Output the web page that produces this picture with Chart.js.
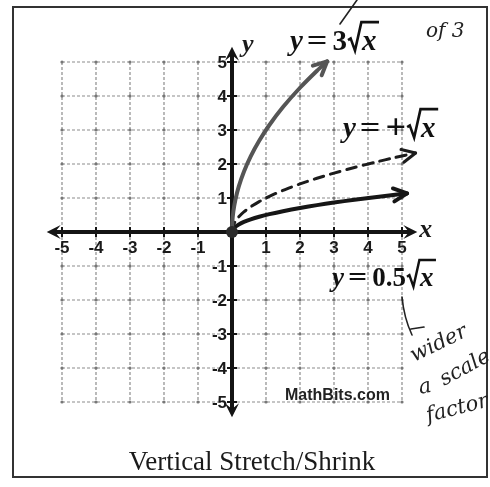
<!DOCTYPE html>
<html>
<head>
<meta charset="utf-8">
<title>Vertical Stretch/Shrink</title>
<script src="https://cdn.jsdelivr.net/npm/chart.js@4.4.1/dist/chart.umd.min.js"></script>
<style>
  html, body { margin: 0; padding: 0; background: #fff; }
  canvas { display: block; }
</style>
</head>
<body>
<canvas id="stretch-chart" width="490" height="487"></canvas>
<script>
// axis ticks and grid
const xTicks = [-5, -4, -3, -2, -1, 1, 2, 3, 4, 5]
const yTicks = [-5, -4, -3, -2, -1, 1, 2, 3, 4, 5]
const gridValues = [-5, -4, -3, -2, -1, 0, 1, 2, 3, 4, 5]

// y = k * sqrt(x) for each curve, k as printed in its label
const coefText = ['3', '+', '0.5']
const scaleFactors = [3, 1, 0.5]
const curveEndX = [2.8, 5.4, 5.15]
const sampleX = [0, 0.01, 0.04, 0.1, 0.2, 0.35, 0.55, 0.8, 1.1, 1.5, 2, 2.5, 3, 3.6, 4.2, 4.8]
const labelPos = [[290, 50], [343, 137], [332, 286]]
const labelSize = [29, 29, 27]

const curveColors = ['#555', '#1c1c1c', '#161616']
const curveWidths = [4, 3, 4]
const curveDash = [[], [10, 7], []]

const datasets = scaleFactors.map((k, i) => {
      const xs = sampleX.filter(x => x < curveEndX[i]).concat([curveEndX[i]])
      return {
            data: xs.map(x => ({ x: x, y: k * Math.sqrt(x) })),
            borderColor: curveColors[i],
            borderWidth: curveWidths[i],
            borderDash: curveDash[i],
            borderCapStyle: 'round',
            pointRadius: 0,
            tension: 0.2,
            fill: false
      }
})

function chevron(ctx, tx, ty, ang, len, spread, width, color) {
      ctx.save()
      ctx.strokeStyle = color
      ctx.lineWidth = width
      ctx.lineCap = 'round'
      ctx.lineJoin = 'round'
      ctx.beginPath()
      ctx.moveTo(tx - len * Math.cos(ang - spread), ty - len * Math.sin(ang - spread))
      ctx.lineTo(tx, ty)
      ctx.lineTo(tx - len * Math.cos(ang + spread), ty - len * Math.sin(ang + spread))
      ctx.stroke()
      ctx.restore()
}

function solidHead(ctx, tx, ty, ang, len, half) {
      ctx.beginPath()
      ctx.moveTo(tx, ty)
      ctx.lineTo(tx - len * Math.cos(ang) + half * Math.sin(ang), ty - len * Math.sin(ang) - half * Math.cos(ang))
      ctx.lineTo(tx - len * 0.6 * Math.cos(ang), ty - len * 0.6 * Math.sin(ang))
      ctx.lineTo(tx - len * Math.cos(ang) - half * Math.sin(ang), ty - len * Math.sin(ang) + half * Math.cos(ang))
      ctx.closePath()
      ctx.fill()
}

// y = k√x written out with a hand built radical sign
function drawEquation(ctx, x, base, coef, size) {
      ctx.save()
      ctx.fillStyle = '#111'
      ctx.strokeStyle = '#111'
      ctx.textBaseline = 'alphabetic'
      ctx.textAlign = 'left'
      ctx.font = 'bold italic ' + size + 'px "Liberation Serif"'
      ctx.fillText('y', x, base)
      let cx = x + ctx.measureText('y').width + 4
      ctx.font = 'bold ' + size + 'px "Liberation Serif"'
      ctx.save()
      ctx.translate(cx, base)
      ctx.scale(1.25, 1)
      ctx.fillText('=', 0, 0)
      ctx.restore()
      cx += ctx.measureText('=').width * 1.25 + 5
      if (coef === '+') {
            // the plus is printed a little larger than the digits
            ctx.save()
            ctx.translate(cx, base + 2)
            ctx.scale(1.25, 1.2)
            ctx.fillText(coef, 0, 0)
            ctx.restore()
            cx += ctx.measureText(coef).width * 1.25 + 1
      } else {
            ctx.fillText(coef, cx, base)
            cx += ctx.measureText(coef).width + 1
      }
      ctx.font = 'bold italic ' + size + 'px "Liberation Serif"'
      const xw = ctx.measureText('x').width
      ctx.lineWidth = size * 0.09
      ctx.lineJoin = 'miter'
      ctx.beginPath()
      ctx.moveTo(cx, base - 0.34 * size)
      ctx.lineTo(cx + 0.09 * size, base - 0.40 * size)
      ctx.lineTo(cx + 0.24 * size, base + 0.02 * size)
      ctx.lineTo(cx + 0.46 * size, base - 0.96 * size)
      ctx.lineTo(cx + 0.50 * size + xw + 2, base - 0.96 * size)
      ctx.stroke()
      ctx.fillText('x', cx + 0.48 * size, base)
      ctx.restore()
}

const gridPlugin = {
      id: 'gridAndAxes',
      beforeDatasetsDraw(chart) {
            const ctx = chart.ctx
            const xs = chart.scales.x
            const ys = chart.scales.y
            const x0 = xs.getPixelForValue(0)
            const y0 = ys.getPixelForValue(0)
            const left = xs.getPixelForValue(-5), right = xs.getPixelForValue(5)
            const top = ys.getPixelForValue(5), bottom = ys.getPixelForValue(-5)

            ctx.save()
            ctx.strokeStyle = '#8c8c8c'
            ctx.lineWidth = 1.2
            ctx.setLineDash([3, 2])
            gridValues.forEach(v => {
                  const px = xs.getPixelForValue(v)
                  ctx.beginPath(); ctx.moveTo(px, top); ctx.lineTo(px, bottom); ctx.stroke()
                  const py = ys.getPixelForValue(v)
                  ctx.beginPath(); ctx.moveTo(left, py); ctx.lineTo(right, py); ctx.stroke()
            })
            ctx.setLineDash([])
            ctx.fillStyle = '#777'
            gridValues.forEach(a => {
                  gridValues.forEach(b => {
                        ctx.beginPath()
                        ctx.arc(xs.getPixelForValue(a), ys.getPixelForValue(b), 1.6, 0, Math.PI * 2)
                        ctx.fill()
                  })
            })

            // main axes with arrows
            ctx.strokeStyle = '#141414'
            ctx.fillStyle = '#141414'
            ctx.lineWidth = 4
            const xl = xs.getPixelForValue(-5.45), xr = xs.getPixelForValue(5.45)
            const yt = ys.getPixelForValue(5.45), yb = ys.getPixelForValue(-5.45)
            ctx.beginPath(); ctx.moveTo(xl + 6, y0); ctx.lineTo(xr - 6, y0); ctx.stroke()
            ctx.beginPath(); ctx.moveTo(x0, yt + 6); ctx.lineTo(x0, yb - 6); ctx.stroke()
            solidHead(ctx, xl, y0, Math.PI, 14, 7)
            solidHead(ctx, xr, y0, 0, 14, 7)
            solidHead(ctx, x0, yt, -Math.PI / 2, 14, 7)
            solidHead(ctx, x0, yb, Math.PI / 2, 14, 7)

            ctx.lineWidth = 2
            xTicks.forEach(t => {
                  const px = xs.getPixelForValue(t)
                  ctx.beginPath(); ctx.moveTo(px, y0 - 5); ctx.lineTo(px, y0 + 5); ctx.stroke()
            })
            yTicks.forEach(t => {
                  const py = ys.getPixelForValue(t)
                  ctx.beginPath(); ctx.moveTo(x0 - 5, py); ctx.lineTo(x0 + 5, py); ctx.stroke()
            })

            // tick labels
            ctx.font = 'bold 17px "Liberation Sans"'
            ctx.fillStyle = '#1a1a1a'
            ctx.textAlign = 'center'
            ctx.textBaseline = 'middle'
            xTicks.forEach(t => {
                  ctx.fillText(String(t), xs.getPixelForValue(t), y0 + 16)
            })
            ctx.textAlign = 'right'
            yTicks.forEach(t => {
                  ctx.fillText(String(t), x0 - 5, ys.getPixelForValue(t) + 1)
            })

            ctx.font = 'bold italic 26px "Liberation Serif"'
            ctx.textAlign = 'left'
            ctx.textBaseline = 'alphabetic'
            ctx.fillText('x', xr + 2, y0 + 5)
            ctx.fillText('y', x0 + 10, ys.getPixelForValue(5.3))
            ctx.restore()
      }
}

const overlayPlugin = {
      id: 'overlay',
      afterDatasetsDraw(chart) {
            const ctx = chart.ctx
            const xs = chart.scales.x
            const ys = chart.scales.y

            // arrow heads at curve ends
            chart.data.datasets.forEach((ds, i) => {
                  const pts = chart.getDatasetMeta(i).data
                  const a = pts[pts.length - 2], b = pts[pts.length - 1]
                  const ang = Math.atan2(b.y - a.y, b.x - a.x)
                  chevron(ctx, b.x, b.y, ang, 15, 0.45, curveWidths[i], curveColors[i])
            })

            ctx.save()
            ctx.fillStyle = '#2a2a2a'
            ctx.beginPath()
            ctx.arc(xs.getPixelForValue(0), ys.getPixelForValue(0), 6, 0, Math.PI * 2)
            ctx.fill()
            ctx.restore()

            coefText.forEach((c, i) => drawEquation(ctx, labelPos[i][0], labelPos[i][1], c, labelSize[i]))

            ctx.save()
            ctx.font = 'bold 16px "Liberation Sans"'
            ctx.fillStyle = '#222'
            ctx.textBaseline = 'alphabetic'
            ctx.fillText('MathBits.com', 285, 400)

            ctx.font = '27px "Liberation Serif"'
            ctx.fillStyle = '#1a1a1a'
            ctx.textAlign = 'center'
            ctx.fillText('Vertical Stretch/Shrink', 252, 470)

            // frame
            ctx.strokeStyle = '#333'
            ctx.lineWidth = 2
            ctx.strokeRect(13, 7, 474, 470)

            // pen notes in the margin
            ctx.strokeStyle = '#222'
            ctx.fillStyle = '#222'
            ctx.lineWidth = 1.6
            ctx.lineCap = 'round'
            ctx.beginPath(); ctx.moveTo(340, 24); ctx.lineTo(357, 0); ctx.stroke()
            ctx.beginPath()
            ctx.moveTo(402, 297)
            ctx.quadraticCurveTo(404, 318, 412, 335)
            ctx.moveTo(411, 329); ctx.lineTo(424, 327)
            ctx.stroke()
            ctx.font = 'italic 20px "DejaVu Serif"'
            ctx.textAlign = 'left'
            ctx.fillText('of 3', 426, 37)
            ctx.font = 'italic 21px "DejaVu Serif"'
            const notes = [['wider', 414, 362, -0.45], ['a', 420, 394, -0.2], ['scale', 444, 386, -0.5], ['factor', 428, 422, -0.25]]
            notes.forEach(n => {
                  ctx.save()
                  ctx.translate(n[1], n[2])
                  ctx.rotate(n[3])
                  ctx.fillText(n[0], 0, 0)
                  ctx.restore()
            })
            ctx.restore()
      }
}

const ctx = document.getElementById('stretch-chart')
new Chart(ctx, {
      type: 'line',
      data: { datasets: datasets },
      options: {
            responsive: false,
            animation: false,
            layout: { padding: { left: 45, right: 71, top: 45, bottom: 68 } },
            scales: {
                  x: { type: 'linear', min: -5.5, max: 5.5, display: false },
                  y: { type: 'linear', min: -5.5, max: 5.5, display: false }
            },
            plugins: { legend: { display: false }, tooltip: { enabled: false } }
      },
      plugins: [gridPlugin, overlayPlugin]
})
</script>
</body>
</html>
